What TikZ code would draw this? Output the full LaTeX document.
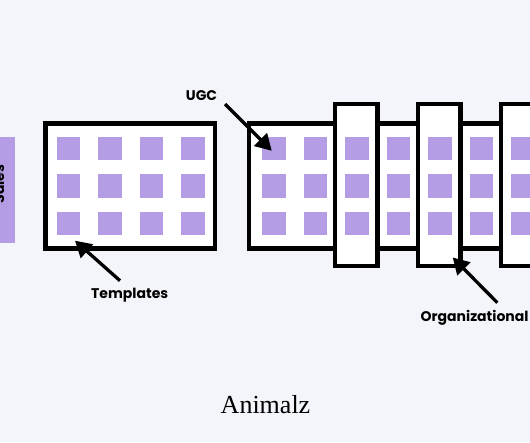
\documentclass[tikz,border=0pt]{standalone}
\usepackage{fontspec}
\setmainfont{Liberation Serif}
\newfontfamily\labelfont{Poppins}
\usetikzlibrary{arrows.meta}
\definecolor{bgcol}{HTML}{F4F5FA}
\definecolor{tile}{HTML}{B59DE5}
\tikzset{
  panel/.style={draw=black, fill=white, line width=4.5pt, outer sep=0pt, inner sep=0pt, anchor=north west},
  tilebox/.style={fill=tile, draw=none},
  callout/.style={line width=3.3pt, -{Triangle[length=16pt,width=18pt]}},
  lbl/.style={font=\labelfont\bfseries\fontsize{14}{15}\selectfont, text=black, inner sep=0pt}
}
\begin{document}
\begin{tikzpicture}[x=1pt, y=-1pt]
\useasboundingbox (0,0) rectangle (530,442);
\clip (0,0) rectangle (530,442);
\fill[bgcol] (0,0) rectangle (530,442);

% left purple strip with rotated label
\fill[tile] (-5,137) rectangle (15,243);
\node[lbl, rotate=90] (sales) at (-1,184) {Sales};

% left template panel
\node[panel, minimum width=169.5pt, minimum height=125pt] (tpl) at (45.5,123.5) {};

% right long panel
\node[panel, minimum width=300pt, minimum height=125pt] (ugcpanel) at (249,123.5) {};

% vertical bars
\node[panel, minimum width=42.5pt, minimum height=162pt] (bar1) at (335,104) {};
\node[panel, minimum width=42.5pt, minimum height=162pt] (bar2) at (418,104) {};
\node[panel, minimum width=42.5pt, minimum height=162pt] (bar3) at (501,104) {};

% tiles
\foreach \i in {0,...,3}{
  \foreach \j in {0,1,2}{
    \fill[tilebox] ({56.7+41.5*\i},{136.5+37.5*\j}) rectangle ++(23.5,23.5);
  }
}
\foreach \i in {0,...,6}{
  \foreach \j in {0,1,2}{
    \fill[tilebox] ({262+41.5*\i},{136.5+37.5*\j}) rectangle ++(23.5,23.5);
  }
}

% labels
\node[lbl, anchor=base] (ugc) at (201.5,100.5) {UGC};
\node[lbl, anchor=base west] (templates) at (91,298.3) {Templates};
\node[lbl, anchor=base west] (org) at (420.5,321.5) {Organizational};

% arrow end points
\coordinate (ugcstart) at (225,104);
\coordinate (ugctip) at (271.7,150.7);
\coordinate (tplstart) at (120,280.7);
\coordinate (tpltip) at (75,240.7);
\coordinate (orgstart) at (497.3,302.7);
\coordinate (orgtip) at (452.7,257.5);

\draw[callout] (ugcstart) -- (ugctip);
\draw[callout] (tplstart) -- (tpltip);
\draw[callout] (orgstart) -- (orgtip);

% logo
\node[font=\fontsize{26}{28}\selectfont, inner sep=0pt, anchor=base] (logo) at (265.5,413.3) {Animalz};
\end{tikzpicture}
\end{document}
